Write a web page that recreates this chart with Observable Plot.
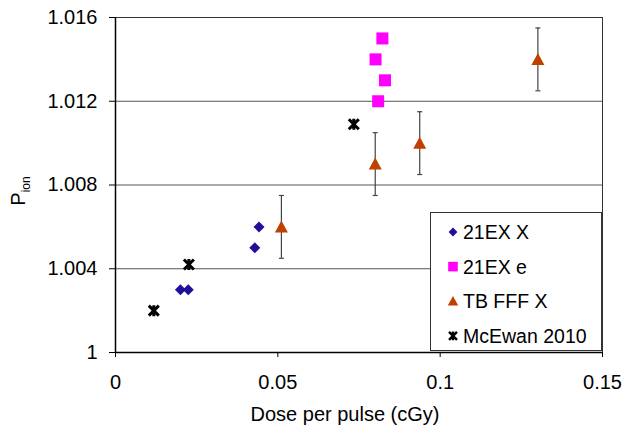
<!DOCTYPE html>
<html><head><meta charset="utf-8">
<script src="https://cdn.jsdelivr.net/npm/d3@7"></script>
<script src="https://cdn.jsdelivr.net/npm/@observablehq/plot@0.6"></script>
<style>body{margin:0;background:#fff} #chart{width:623px;height:426px}</style>
</head><body><div id="chart"></div>
<script>
// ---- data ----
const seriesNames = ["21EX X", "21EX e", "TB FFF X", "McEwan 2010"];
const ex21X_x = [0.0200, 0.0224, 0.0429, 0.0442];
const ex21X_y = [1.003, 1.003, 1.005, 1.006];
const ex21e_x = [0.0822, 0.0801, 0.0830, 0.0809];
const ex21e_y = [1.015, 1.014, 1.013, 1.012];
const tbfff_x = [0.0511, 0.0800, 0.0937, 0.1301];
const tbfff_y = [1.006, 1.009, 1.010, 1.014];
const tbfff_err = [0.0015, 0.0015, 0.0015, 0.0015];
const mcewan_x = [0.0118, 0.0226, 0.0734];
const mcewan_y = [1.002, 1.0042, 1.0109];
const xTicks = [0, 0.05, 0.1, 0.15];
const yTicks = [1, 1.004, 1.008, 1.012, 1.016];
const xLabel = "Dose per pulse (cGy)";
const yLabelMain = "P", yLabelSub = "ion";

// ---- marker shapes ----
const diamond = {draw(c){c.moveTo(0,-5.5);c.lineTo(5.5,0);c.lineTo(0,5.5);c.lineTo(-5.5,0);c.closePath();}};
const square = {draw(c){c.moveTo(-6,-6);c.lineTo(6,-6);c.lineTo(6,6);c.lineTo(-6,6);c.closePath();}};
const triangle = {draw(c){c.moveTo(0,-6.5);c.lineTo(6.5,5.5);c.lineTo(-6.5,5.5);c.closePath();}};
const star = {draw(c){c.moveTo(-5,-5);c.lineTo(5,5);c.moveTo(5,-5);c.lineTo(-5,5);c.moveTo(0,-5.5);c.lineTo(0,5.5);}};
const cap = {draw(c){c.moveTo(-2.5,0);c.lineTo(2.5,0);}};

const colors = ["#1f0f99", "#ff00ff", "#c04000", "#000000"];
const shapes = [diamond, square, triangle, star];

const zip = (xs, ys) => xs.map((x, i) => ({x, y: ys[i]}));
const dEX = zip(ex21X_x, ex21X_y);
const dEe = zip(ex21e_x, ex21e_y);
const dTB = tbfff_x.map((x, i) => ({x, y: tbfff_y[i], lo: tbfff_y[i] - tbfff_err[i], hi: tbfff_y[i] + tbfff_err[i]}));
const dMc = zip(mcewan_x, mcewan_y);

const font = "'Liberation Sans', Arial, sans-serif";
const yFmt = d => d === 1 ? "1" : d.toFixed(3);
const xFmt = d => String(d);

const plot = Plot.plot({
  width: 623, height: 426,
  marginLeft: 115, marginRight: 21, marginTop: 17, marginBottom: 74,
  style: {fontFamily: font, fontSize: "20px", color: "#000", background: "#fff", overflow: "visible"},
  x: {domain: [0, 0.15]},
  y: {domain: [1, 1.016]},
  marks: [
    Plot.ruleY(yTicks.slice(1), {stroke: "#555", strokeWidth: 1}),
    Plot.frame({stroke: "#333", strokeWidth: 1}),
    Plot.axisY({ticks: yTicks, tickFormat: yFmt, tickSize: 6, tickPadding: 12, label: null, stroke: "#000", fontSize: 20}),
    Plot.axisX({ticks: xTicks, tickFormat: xFmt, tickSize: 5, tickPadding: 17, label: null, stroke: "#000", fontSize: 20}),
    Plot.ruleX([0], {stroke: "#000", strokeWidth: 1.5}),
    Plot.ruleY([1], {stroke: "#000", strokeWidth: 1.5}),
    Plot.ruleX(dTB, {x: "x", y1: "lo", y2: "hi", stroke: "#444", strokeWidth: 1.2}),
    Plot.dot(dTB, {x: "x", y: "lo", symbol: cap, stroke: "#444", strokeWidth: 1.2}),
    Plot.dot(dTB, {x: "x", y: "hi", symbol: cap, stroke: "#444", strokeWidth: 1.2}),
    Plot.dot(dEX, {x: "x", y: "y", symbol: diamond, fill: colors[0], stroke: "none"}),
    Plot.dot(dEe, {x: "x", y: "y", symbol: square, fill: colors[1], stroke: "none"}),
    Plot.dot(dTB, {x: "x", y: "y", symbol: triangle, fill: colors[2], stroke: "none"}),
    Plot.dot(dMc, {x: "x", y: "y", symbol: star, fill: "none", stroke: colors[3], strokeWidth: 3})
  ]
});

const svg = d3.select(plot);
// axis titles
svg.append("text")
  .attr("x", 345).attr("y", 421)
  .attr("text-anchor", "middle")
  .attr("font-family", font).attr("font-size", 20).attr("fill", "#000")
  .text(xLabel);
const yl = svg.append("text")
  .attr("transform", "translate(25,191) rotate(-90)")
  .attr("text-anchor", "middle")
  .attr("font-family", font).attr("font-size", 20).attr("fill", "#000");
yl.append("tspan").text(yLabelMain);
yl.append("tspan").attr("font-size", 12).attr("dy", 5).text(yLabelSub);

// legend
const lg = svg.append("g").attr("text-anchor", "start");
lg.append("rect").attr("x", 430.5).attr("y", 212.5).attr("width", 171).attr("height", 138)
  .attr("fill", "#fff").attr("stroke", "#333").attr("stroke-width", 1);
seriesNames.forEach((name, i) => {
  const cy = 232 + i * 34.6;
  const p = lg.append("path")
    .attr("transform", `translate(453,${cy}) scale(${i === 3 ? 0.8 : 0.8})`)
    .attr("d", d3.symbol().type(shapes[i])());
  if (i === 3) p.attr("fill", "none").attr("stroke", "#000").attr("stroke-width", 3);
  else p.attr("fill", colors[i]);
  lg.append("text").attr("x", 463).attr("y", cy).attr("dy", "0.36em")
    .attr("text-anchor", "start")
    .attr("font-family", font).attr("font-size", 19.5).attr("fill", "#000").text(name);
});

document.getElementById("chart").appendChild(plot);
</script></body></html>
